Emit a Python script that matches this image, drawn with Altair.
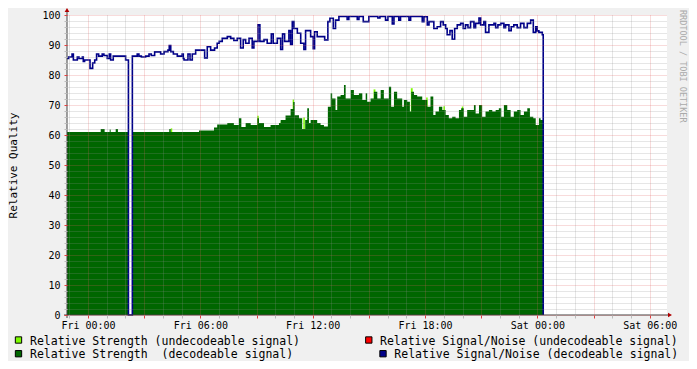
import altair as alt
import pandas as pd

# Hours relative to Fri 00:00 ; step-after breakpoints
sn_hours = [-1.12, -1.03, -0.85, -0.78, -0.57, -0.48, -0.30, -0.25, -0.18, 0.11, 0.25, 0.36, 0.46, 0.57, 0.76, 0.85,
            1.03, 1.14, 1.21, 1.35, 2.01, 2.16, 2.37, 2.63, 2.72, 2.85, 3.08, 3.26, 3.38, 3.56, 3.88, 4.06, 4.27, 4.34,
            4.42, 4.56, 4.77, 5.03, 5.09, 5.13, 5.34, 5.45, 5.57, 5.75, 6.23, 6.37, 6.55, 6.76, 6.90, 7.01, 7.17, 7.44,
            7.62, 7.79, 7.97, 8.15, 8.29, 8.42, 8.60, 8.77, 8.86, 9.08, 9.18, 9.40, 9.57, 9.79, 9.89, 10.11, 10.29,
            10.39, 10.50, 10.73, 10.82, 10.91, 11.00, 11.18, 11.36, 11.53, 11.62, 11.89, 12.03, 12.10, 12.24, 12.64,
            12.81, 12.92, 13.10, 13.22, 13.40, 13.84, 13.93, 14.38, 14.47, 14.70, 15.00, 15.48, 15.59, 15.89, 16.02,
            16.25, 16.34, 16.60, 16.69, 17.14, 17.23, 17.85, 17.94, 18.12, 18.21, 18.47, 18.65, 18.83, 18.97, 19.10,
            19.18, 19.33, 19.45, 19.58, 19.72, 19.90, 20.04, 20.16, 20.29, 20.43, 20.61, 20.70, 20.88, 20.97, 21.14,
            21.23, 21.41, 21.68, 21.77, 21.89, 22.04, 22.21, 22.30, 22.48, 22.60, 22.74, 22.92, 23.10, 23.28, 23.46,
            23.64, 23.78, 23.91, 23.99, 24.08, 24.26, 24.31]
sn_values = [85.5, 86, 87, 85, 86, 85.5, 86, 84.5, 85, 82.2, 84, 85, 87, 86.3, 87, 86.5,
             85.5, 87, 85, 86.3, 85, 0, 86.3, 87, 86.3, 86, 86.3, 87, 86.5, 87.7, 87, 87.8, 88.3, 89.8,
             87.8, 87, 86.3, 87, 85.5, 85, 87, 85, 87, 88.3, 85.7, 89.4, 88.3, 89, 90.6, 91.2, 92.2, 92.8,
             92.2, 91.5, 92.2, 89, 91.8, 90.6, 92.2, 89, 91.2, 96.7, 91.2, 91.8, 90.6, 93.7, 90.6, 92.2, 88.5,
             93.7, 91.2, 94.8, 90.2, 97.8, 95.5, 93.9, 90.6, 88.5, 94.8, 92.8, 88.8, 94.4, 92.8, 91.7,
             97.8, 98.9, 95.5, 98.3, 99.5, 98.5, 99.5, 98.5, 99.5, 97.8, 99.5, 99, 99.5, 98.3, 99.5,
             97, 99.5, 98.3, 99.5, 98.3, 99.5, 97.8, 99.4, 96.7, 97.8, 95.5, 96.1, 97.8, 96.7, 95.5,
             93.4, 94.8, 91.9, 95.5, 96.7, 97.2, 95.5, 96.7, 95.8, 97.8, 95.8, 97.2, 99, 96.7, 97.8,
             94.2, 96.7, 97.2, 95.8, 96.7, 97.2, 95.8, 96.7, 94.8, 96.1, 96.7, 95.8, 97.2, 95.8, 97.2,
             98.3, 94.2, 96.1, 94.7, 94.2, 93.4, 0]

str_hours = [-1.12, 0.68, 0.89, 1.16, 1.21, 1.48, 1.60, 2.16, 2.37, 4.34, 4.42, 5.93, 6.73, 6.90, 7.44, 7.79, 8.06,
             8.19, 8.42, 8.69, 9.04, 9.13, 9.40, 9.75, 10.20, 10.29, 10.55, 10.82, 10.96, 11.04, 11.27, 11.44, 11.60,
             11.71, 11.80, 11.89, 12.24, 12.42, 12.60, 12.81, 12.96, 13.04, 13.22, 13.31, 13.49, 13.67, 13.76, 14.03,
             14.20, 14.47, 14.65, 14.83, 14.91, 15.09, 15.27, 15.45, 15.63, 15.80, 16.07, 16.19, 16.34, 16.51, 16.78,
             16.87, 17.05, 17.19, 17.26, 17.41, 17.58, 17.85, 17.94, 18.12, 18.29, 18.44, 18.56, 18.74, 18.92, 19.10,
             19.27, 19.45, 19.63, 19.81, 19.93, 20.07, 20.25, 20.61, 20.70, 20.88, 21.05, 21.23, 21.41, 21.59, 21.77,
             21.94, 22.07, 22.21, 22.39, 22.57, 22.74, 22.92, 23.10, 23.28, 23.46, 23.60, 23.78, 23.91, 24.08, 24.17,
             24.31]
str_values = [61, 62, 61, 61.8, 61, 62, 61, 0, 61, 62, 61, 61.5, 62.5, 63.5, 64, 63.3, 65.6,
              62.7, 64, 63.3, 65.6, 64, 62.7, 63.3, 64, 65, 66.5, 68.7, 71, 66.6, 65.6, 62, 65,
              68.9, 64, 65, 64, 63.3, 62.8, 69.4, 73.9, 72.2, 68.3, 72.8, 73.3, 76.7, 72.2, 75,
              73.3, 73.9, 71.7, 73.9, 71.1, 72.2, 74.4, 72.2, 75, 72.2, 76.1, 69.4, 74.4, 72.2, 69.4,
              71.7, 71.1, 67.8, 74.4, 73.3, 72.8, 71.7, 71.7, 69.4, 72.8, 66.7, 67.8, 69.4, 68.3, 66.7,
              65.6, 66.1, 65.6, 68.3, 68.9, 66.1, 68.3, 70, 67.2, 70, 66.1, 67.8, 68.3, 67.8, 68.3,
              68.9, 66.1, 70, 68.3, 66.1, 67.8, 68.3, 66.7, 67.8, 68.9, 66.1, 65.6, 63.3, 65.6, 65,
              0]

# undecodeable strength peaks (visible tips)
tip_start = [4.42, 9.04, 10.29, 10.93, 11.50, 15.25, 17.24, 18.06, 18.98, 19.96]
tip_end = [4.50, 9.12, 10.35, 11.00, 11.58, 15.35, 17.34, 18.14, 19.06, 20.04]
tip_values = [62.2, 66.4, 64.5, 71.8, 65.8, 75.2, 75.6, 72.5, 69.6, 69.5]

legend_labels = ["Relative Strength (undecodeable signal)", "Relative Strength\u00a0 (decodeable signal)",
                 "Relative Signal/Noise (undecodeable signal)", "Relative Signal/Noise (decodeable signal)"]
legend_colors = ["#7cfc00", "#006600", "#ff0000", "#000088"]

MONO = "DejaVu Sans Mono"
GRID = "#8f8f8f"
MGRID = "#e06060"

x_axis = alt.Axis(
    values=list(range(-1, 31)),
    labelExpr="datum.value % 6 === 0 ? ((datum.value < 24 ? 'Fri ' : 'Sat ') + ((datum.value % 24) < 10 ? '0' : '') + (datum.value % 24) + ':00') : ''",
    labelOverlap=False, labelFlush=False,
    labelFont=MONO, labelFontSize=10, labelColor="#000000", labelPadding=2,
    gridColor={"condition": {"test": "datum.value % 3 === 0", "value": MGRID}, "value": GRID},
    gridDash=[1, 1], gridOpacity=0.45,
    tickColor={"condition": {"test": "datum.value % 3 === 0", "value": "#e04040"}, "value": "#bbbbbb"},
    tickSize=3, domain=False, title=None, zindex=1,
)
y_axis = alt.Axis(
    values=list(range(0, 101, 2)),
    labelExpr="datum.value % 10 === 0 ? datum.label : ''",
    labelOverlap=False, labelFlush=False,
    labelFont=MONO, labelFontSize=10, labelColor="#000000", labelPadding=4,
    gridColor={"condition": {"test": "datum.value % 10 === 0", "value": MGRID}, "value": GRID},
    gridDash=[1, 1], gridOpacity=0.45,
    tickColor={"condition": {"test": "datum.value % 10 === 0", "value": "#e04040"}, "value": "#bbbbbb"},
    tickSize=3, domain=False,
    title="Relative Quality", titleFont=MONO, titleFontSize=11, titleFontWeight="normal",
    titleColor="#000000", titleX=-54, titleY=150, titleAngle=270, titleAlign="center", titleBaseline="middle",
    zindex=1,
)

xs = alt.Scale(domain=[-1.12, 30.92], nice=False, zero=False)
ys = alt.Scale(domain=[0, 100], nice=False)

sn_df = pd.DataFrame({"h": sn_hours, "v": sn_values})
st_df = pd.DataFrame({"h": str_hours, "v": str_values})
tip_df = pd.DataFrame({"s": tip_start, "e": tip_end, "v": tip_values})

X = alt.X("h:Q", scale=xs, axis=x_axis)
Y = alt.Y("v:Q", scale=ys, axis=y_axis)

tips = alt.Chart(tip_df).mark_rect(color=legend_colors[0]).encode(
    x=alt.X("s:Q", scale=xs, axis=x_axis), x2="e:Q", y=Y, y2=alt.datum(0))
area = alt.Chart(st_df).mark_area(interpolate="step-after", color=legend_colors[1], opacity=1).encode(x=X, y=Y)
line = alt.Chart(sn_df).mark_line(interpolate="step-after", color=legend_colors[3], strokeWidth=1.6).encode(x=X, y=Y)

one = pd.DataFrame({"a": [0]})
axis_y_line = alt.Chart(one).mark_rule(color="#404040", strokeWidth=1).encode(
    x=alt.value(0), y=alt.value(-4), y2=alt.value(303))
axis_x_line = alt.Chart(one).mark_rule(color="#404040", strokeWidth=1).encode(
    x=alt.value(-3), x2=alt.value(602), y=alt.value(300))
arrow_up = alt.Chart(one).mark_point(shape="triangle-up", filled=True, color="#b00000", size=22, opacity=1).encode(
    x=alt.value(0), y=alt.value(-5))
arrow_right = alt.Chart(one).mark_point(shape="triangle-right", filled=True, color="#b00000", size=22, opacity=1).encode(
    x=alt.value(603), y=alt.value(300))

credit = alt.Chart(one).mark_text(text="RRDTOOL / TOBI OETIKER", angle=90, align="left", baseline="middle",
                                  font=MONO, fontSize=8.5, color="#aaaaaa").encode(
    x=alt.value(616), y=alt.value(-5))


def legend_item(i, bx, by, tx, ty):
    box = alt.Chart(one).mark_point(shape="square", filled=True, fill=legend_colors[i], stroke="#000000",
                                    strokeWidth=1, size=40, opacity=1).encode(x=alt.value(bx), y=alt.value(by))
    txt = alt.Chart(one).mark_text(text=legend_labels[i], align="left", baseline="middle", font=MONO,
                                   fontSize=11.5, color="#000000").encode(x=alt.value(tx), y=alt.value(ty))
    return [box, txt]


legend_layers = (legend_item(0, -48.5, 325, -37, 326.5) + legend_item(1, -48.5, 338.7, -37, 340)
                 + legend_item(2, 301.8, 325, 313, 326.5) + legend_item(3, 316, 338.7, 327.3, 340))

chart = alt.layer(tips, area, line, axis_y_line, axis_x_line, arrow_up, arrow_right, credit,
                  *legend_layers).properties(
    width=600, height=300,
    autosize=alt.AutoSizeParams(type="none"),
    padding={"left": 59, "top": 7, "right": 22, "bottom": 46},
    background="#f0f0f0",
).configure_view(stroke=None, fill="#ffffff")

chart.save("out.html", embed_options={"renderer": "svg", "actions": False})
